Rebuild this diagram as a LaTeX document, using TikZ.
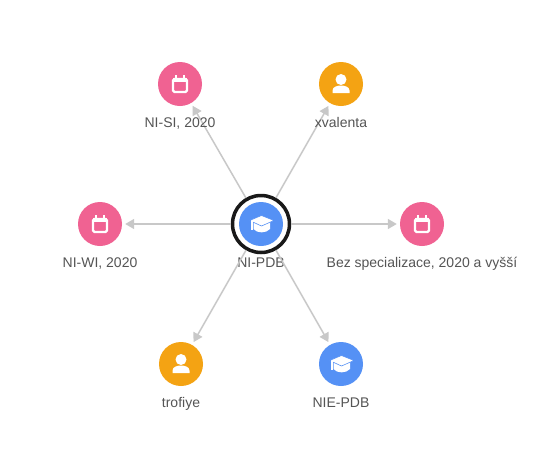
\documentclass[tikz,border=0pt]{standalone}
\usepackage{fontspec}
\setmainfont{Liberation Sans}
\usetikzlibrary{arrows.meta}
\definecolor{pinkc}{HTML}{F06292}
\definecolor{orangec}{HTML}{F4A313}
\definecolor{bluec}{HTML}{5591F5}
\definecolor{textc}{HTML}{555555}
\definecolor{linkc}{HTML}{C8C8C8}
\tikzset{
  entity/.style={circle,minimum size=44pt,inner sep=0pt},
  ring/.style={circle,draw=black!90,line width=3.5pt,fill=white,minimum size=57pt,inner sep=0pt},
  link/.style={draw=linkc,line width=1.5pt,-{Triangle[length=9pt,width=10pt]},shorten >=3pt},
  caption/.style={text=textc,font=\fontsize{14}{16}\selectfont,inner sep=0pt,anchor=base},
  calendar/.pic={
    \draw[white,line width=2.2pt,rounded corners=1.5pt] (-7,-5) rectangle (7,8);
    \fill[white] (-7,-6) rectangle (7,-2.5);
    \fill[white] (-5,-9) rectangle (-3,-5);
    \fill[white] (3,-9) rectangle (5,-5);
  },
  person/.pic={
    \fill[white] (0,-4.5) circle (5.5);
    \fill[white] (-8.5,9) -- (-8.5,6.5) .. controls (-8.5,2.5) and (-3,1.5) .. (0,1.5)
      .. controls (3,1.5) and (8.5,2.5) .. (8.5,6.5) -- (8.5,9) -- cycle;
  },
  gradcap/.pic={
    \fill[white] (-7.5,-2) -- (-7.5,5) .. controls (-4,9.5) and (5,9.5) .. (9,5) -- (9,-2) -- cycle;
    \filldraw[white,draw=bluec,line width=0.6pt] (-11.5,-3.5) -- (0.5,-8.5) -- (13,-3.5) -- (0.5,2) -- cycle;
    \draw[white,line width=2pt] (-9.5,-3) -- (-9.5,6);
  }
}
\begin{document}
\begin{tikzpicture}[x=1pt,y=-1pt]
  \useasboundingbox[fill=white] (0,0) rectangle (547,459);
  \def \Nodes {
    nisi/180/84/calendar/pinkc/{NI-SI, 2020},
    xvalenta/341/84/person/orangec/xvalenta,
    bez/422/224/calendar/pinkc/{Bez specializace, 2020 a vyšší},
    niwi/100/224/calendar/pinkc/{NI-WI, 2020},
    trofiye/181/364/person/orangec/trofiye,
    niepdb/341/364/gradcap/bluec/NIE-PDB}

  \node[ring] (hub) at (261,224) {};
  \node[entity,fill=bluec] (nipdb) at (261,224) {};
  \pic at (nipdb) {gradcap};
  \node[caption] (nipdb-label) at (261,267) {NI-PDB};

  \foreach \id / \x / \y / \icon / \col / \txt in \Nodes {
    \node[entity,fill=\col] (\id) at (\x,\y) {};
    \pic at (\id) {\icon};
    \draw[link] (hub) -- (\id);
    \node[caption] (\id-label) at (\x,\y+43) {\txt};
  }
\end{tikzpicture}
\end{document}
